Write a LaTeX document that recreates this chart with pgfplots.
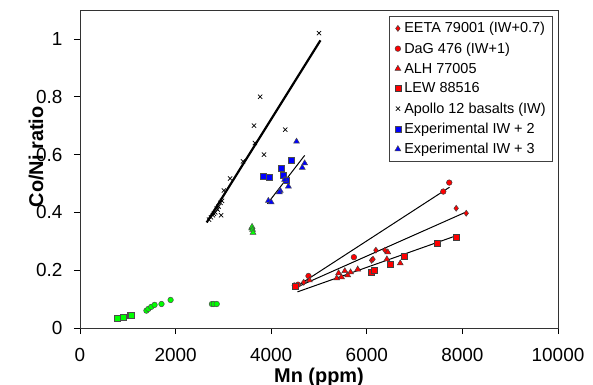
\documentclass[border=0pt]{standalone}
\usepackage{fontspec}
\setmainfont{Liberation Sans}
\usepackage{pgfplots}
\pgfplotsset{compat=1.18}
\usetikzlibrary{calc}
\definecolor{mgreen}{RGB}{0,255,0}
\definecolor{mblue}{RGB}{0,0,255}
\definecolor{mred}{RGB}{255,0,0}
\begin{document}
\begin{tikzpicture}
\begin{axis}[name=ax, scale only axis, width=478bp, height=318bp,
  xmin=0, xmax=10000, ymin=0, ymax=1.1,
  xtick={0,2000,4000,6000,8000,10000},
  ytick={0,0.2,0.4,0.6,0.8,1},
  scaled x ticks=false, scaled y ticks=false,
  /pgf/number format/1000 sep={},
  /pgf/number format/assume math mode=true,
  xticklabel style={font=\fontsize{19}{22}\selectfont, yshift=-11bp},
  yticklabel style={font=\fontsize{19}{22}\selectfont, xshift=-8bp},
  tick align=outside, xtick pos=bottom, ytick pos=left,
  major tick length=6bp, tick style={black, line width=0.8bp},
  axis line style={black!80, line width=0.8bp},
  xlabel={\textbf{Mn (ppm)}}, ylabel={\textbf{Co/Ni ratio}},
  every axis x label/.style={font=\fontsize{20}{22}\selectfont, at={(axis description cs:0.5,-0.155)}, anchor=center},
  every axis y label/.style={font=\fontsize{20}{22}\selectfont, at={(axis description cs:-0.092,0.538)}, anchor=center, rotate=90},
  legend cell align=left,
  legend image code/.code={\draw[#1] plot coordinates {(0bp,0bp)}; \path (-3bp,0bp) (4bp,0bp);},
  legend style={at={(rel axis cs:0.9895,0.981)}, anchor=north east, draw=black!75, line width=0.8bp,
    font=\fontsize{14.5}{17}\selectfont, row sep=4.3bp, inner xsep=5bp, inner ysep=4bp},
]
% regression lines
\addplot[black, line width=2.2bp, forget plot] coordinates {(2650,0.365) (5030,0.995)};
\addplot[black, line width=1bp, forget plot] coordinates {(3920,0.43) (4700,0.597)};
\addplot[black, line width=1bp, forget plot] coordinates {(4450,0.135) (7730,0.487)};
\addplot[black, line width=1bp, forget plot] coordinates {(4450,0.135) (8060,0.400)};
\addplot[black, line width=1bp, forget plot] coordinates {(4550,0.125) (7850,0.318)};
% green (no legend)
\addplot[only marks, mark=square*, mark size=3bp, mark options={fill=mgreen, draw=black!70, line width=0.5bp}, forget plot]
  coordinates {(780,0.032) (910,0.038) (1060,0.043) (1070,0.045)};
\addplot[only marks, mark=*, mark size=2.8bp, mark options={fill=mgreen, draw=black!70, line width=0.5bp}, forget plot]
  coordinates {(1390,0.060) (1430,0.066) (1490,0.073) (1560,0.080) (1705,0.083) (1895,0.097) (2760,0.083) (2800,0.083) (2860,0.083)};
\addplot[only marks, mark=triangle*, mark size=3.4bp, mark options={fill=mgreen, draw=black!70, line width=0.5bp}, forget plot]
  coordinates {(3590,0.345) (3600,0.350) (3610,0.340) (3620,0.330)};
% legend series
\addplot[only marks, mark=diamond*, mark size=3bp, mark options={fill=mred, draw=black!75, line width=0.5bp}]
  coordinates {(4480,0.147) (4680,0.158) (6100,0.234) (6130,0.238) (6190,0.269) (6380,0.269) (7870,0.414) (8080,0.397)};
\addlegendentry{EETA 79001 (IW+0.7)}
\addplot[only marks, mark=*, mark size=2.8bp, mark options={fill=mred, draw=black!75, line width=0.5bp}]
  coordinates {(4560,0.150) (4780,0.180) (5730,0.245) (7600,0.472) (7725,0.503)};
\addlegendentry{DaG 476 (IW+1)}
\addplot[only marks, mark=triangle*, mark size=3.4bp, mark options={fill=mred, draw=black!75, line width=0.5bp}]
  coordinates {(4800,0.165) (5370,0.172) (5410,0.190) (5470,0.176) (5540,0.197) (5600,0.183) (5660,0.193) (5810,0.203) (6420,0.238) (6440,0.262) (6700,0.224)};
\addlegendentry{ALH 77005}
\addplot[only marks, mark=square*, mark size=3bp, mark options={fill=mred, draw=black!75, line width=0.5bp}]
  coordinates {(4500,0.145) (6100,0.193) (6150,0.200) (6500,0.220) (6780,0.248) (7470,0.293) (7870,0.314)};
\addlegendentry{LEW 88516}
\addplot[only marks, mark=x, mark size=3bp, mark options={draw=black, line width=0.7bp}]
  coordinates {(2700,0.375) (2740,0.383) (2780,0.390) (2800,0.395) (2830,0.400) (2860,0.413) (2880,0.410) (2900,0.420) (2940,0.433) (2970,0.440) (2950,0.390) (3010,0.476) (3140,0.517) (3410,0.576) (3660,0.640) (3640,0.700) (3770,0.800) (4295,0.686) (3850,0.600) (5000,1.020)};
\addlegendentry{Apollo 12 basalts (IW)}
\addplot[only marks, mark=square*, mark size=3bp, mark options={fill=mblue, draw=black!70, line width=0.5bp}]
  coordinates {(3830,0.525) (3960,0.522) (4210,0.552) (4420,0.580) (4250,0.527) (4310,0.510)};
\addlegendentry{Experimental IW + 2}
\addplot[only marks, mark=triangle*, mark size=3.4bp, mark options={fill=mblue, draw=black!70, line width=0.5bp}]
  coordinates {(4530,0.645) (4700,0.570) (4650,0.555) (4360,0.490) (4190,0.475) (4170,0.470) (4280,0.513) (3940,0.440) (4000,0.435)};
\addlegendentry{Experimental IW + 3}
\end{axis}
\pgfresetboundingbox
\path ($(ax.south west)+(-80bp,-57bp)$) rectangle ($(ax.north east)+(35bp,10bp)$);
\end{tikzpicture}
\end{document}
